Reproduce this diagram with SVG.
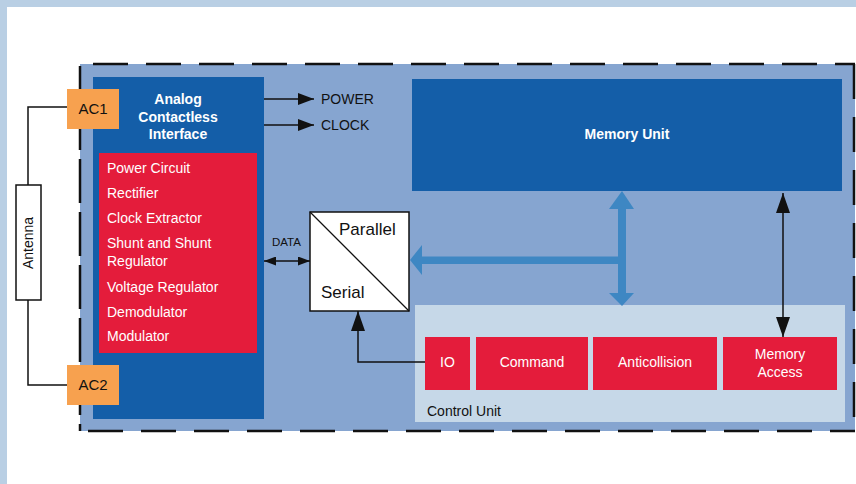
<svg xmlns="http://www.w3.org/2000/svg" width="856" height="484" viewBox="0 0 856 484">
<defs>
<style>
text{font-family:"Liberation Sans",Arial,sans-serif;}
.w{fill:#fff;font-size:14px;}
.wb{fill:#fff;font-size:14px;font-weight:bold;}
.k{fill:#111;font-size:14px;}
.ac{fill:#111;font-size:15px;}
.big{fill:#111;font-size:17px;}
.sm{fill:#111;font-size:11.5px;}
.dark{fill:#145ea8;}
.red{fill:#e41c3b;}
.org{fill:#f7a14f;}
.ln{stroke:#111;stroke-width:1.5;fill:none;}
</style>
<marker id="ah" viewBox="0 0 16 12" refX="16" refY="6" markerWidth="16" markerHeight="12" markerUnits="userSpaceOnUse" orient="auto-start-reverse"><path d="M0,0 L16,6 L0,12 z" fill="#111"/></marker>
<marker id="ahs" viewBox="0 0 12 9" refX="12" refY="4.5" markerWidth="12" markerHeight="9" markerUnits="userSpaceOnUse" orient="auto-start-reverse"><path d="M0,0 L12,4.5 L0,9 z" fill="#111"/></marker>
<marker id="ahl" viewBox="0 0 20 14" refX="20" refY="7" markerWidth="20" markerHeight="14" markerUnits="userSpaceOnUse" orient="auto-start-reverse"><path d="M0,0 L20,7 L0,14 z" fill="#111"/></marker>
</defs>
<rect width="856" height="484" fill="#fff"/>
<rect x="0" y="0" width="856" height="7" fill="#b9cfe4"/>
<rect x="0" y="0" width="7" height="484" fill="#b9cfe4"/>

<g id="chip">
<rect x="80" y="64" width="775" height="367" fill="#86a5d0"/>
<line x1="93" y1="64" x2="855" y2="64" stroke="#111" stroke-width="2.5" stroke-dasharray="35 18"/>
<line x1="88" y1="431" x2="855" y2="431" stroke="#111" stroke-width="2.5" stroke-dasharray="35 18"/>
<line x1="80" y1="66" x2="80" y2="431" stroke="#111" stroke-width="2.5" stroke-dasharray="44 9" stroke-dashoffset="-40"/>
<line x1="854" y1="64" x2="854" y2="431" stroke="#111" stroke-width="2.5" stroke-dasharray="35 18"/>
</g>

<g id="antenna">
<rect x="16" y="185" width="25" height="115" fill="#fff" stroke="#111" stroke-width="1.5"/>
<text class="k" transform="translate(33,243) rotate(-90)" text-anchor="middle">Antenna</text>
</g>

<g id="analog">
<rect class="dark" x="93" y="77" width="171" height="342"/>
<text class="wb" x="178" y="104" text-anchor="middle">Analog</text>
<text class="wb" x="178" y="122" text-anchor="middle">Contactless</text>
<text class="wb" x="178" y="139" text-anchor="middle">Interface</text>
</g>

<g id="analog-functions">
<rect class="red" x="99" y="153" width="158" height="200"/>
<text class="w" x="107" y="173">Power Circuit</text>
<text class="w" x="107" y="198">Rectifier</text>
<text class="w" x="107" y="223">Clock Extractor</text>
<text class="w" x="107" y="248">Shunt and Shunt</text>
<text class="w" x="107" y="266">Regulator</text>
<text class="w" x="107" y="292">Voltage Regulator</text>
<text class="w" x="107" y="317">Demodulator</text>
<text class="w" x="107" y="341">Modulator</text>
</g>

<g id="ac1">
<rect class="org" x="67" y="89" width="52" height="40"/>
<text class="ac" x="93" y="114" text-anchor="middle">AC1</text>
</g>
<g id="ac2">
<rect class="org" x="67" y="365" width="52" height="40"/>
<text class="ac" x="93" y="390" text-anchor="middle">AC2</text>
</g>

<g id="labels">
<text class="k" x="321" y="104">POWER</text>
<text class="k" x="321" y="130">CLOCK</text>
<text class="sm" x="272" y="246">DATA</text>
</g>

<g id="converter">
<rect x="310" y="212" width="99" height="99" fill="#fff" stroke="#111" stroke-width="1.5"/>
<line x1="310" y1="212" x2="409" y2="311" stroke="#111" stroke-width="1.3"/>
<text class="big" x="339" y="235">Parallel</text>
<text class="big" x="321" y="298">Serial</text>
</g>

<g id="memory-unit">
<rect class="dark" x="412" y="79" width="430" height="112"/>
<text class="wb" x="627" y="139" text-anchor="middle">Memory Unit</text>
</g>

<g id="control-unit">
<rect x="415" y="305" width="430" height="117" fill="#c6d8e8"/>
<text class="k" x="427" y="416">Control Unit</text>
</g>
<g id="io">
<rect class="red" x="425" y="337" width="45" height="53"/>
<text class="w" x="447.5" y="367" text-anchor="middle">IO</text>
</g>
<g id="command">
<rect class="red" x="476" y="337" width="112" height="53"/>
<text class="w" x="532" y="367" text-anchor="middle">Command</text>
</g>
<g id="anticollision">
<rect class="red" x="593" y="337" width="124" height="53"/>
<text class="w" x="655" y="367" text-anchor="middle">Anticollision</text>
</g>
<g id="memory-access">
<rect class="red" x="723" y="337" width="114" height="53"/>
<text class="w" x="780" y="359" text-anchor="middle">Memory</text>
<text class="w" x="780" y="377" text-anchor="middle">Access</text>
</g>

<g id="connectors">
<polyline class="ln" points="67,107 28,107 28,185"/>
<polyline class="ln" points="28,300 28,385 67,385"/>
<line class="ln" x1="264" y1="99" x2="314" y2="99" marker-end="url(#ah)"/>
<line class="ln" x1="264" y1="125" x2="314" y2="125" marker-end="url(#ah)"/>
<line class="ln" x1="264" y1="261" x2="310" y2="261" marker-start="url(#ahs)" marker-end="url(#ahs)"/>
<polyline class="ln" points="425,362 358,362 358,311" marker-end="url(#ahl)"/>
<line class="ln" x1="783" y1="193" x2="783" y2="337" marker-start="url(#ahl)" marker-end="url(#ahl)"/>
<g fill="#3e87c3">
<rect x="618" y="205" width="8" height="92"/>
<path d="M622,191 L634,209 L609,209 z"/>
<path d="M622,306 L634,293 L609,293 z"/>
<rect x="420" y="256.5" width="202" height="7.5"/>
<path d="M410,260 L422,245 L422,275 z"/>
</g>
</g>
</svg>
